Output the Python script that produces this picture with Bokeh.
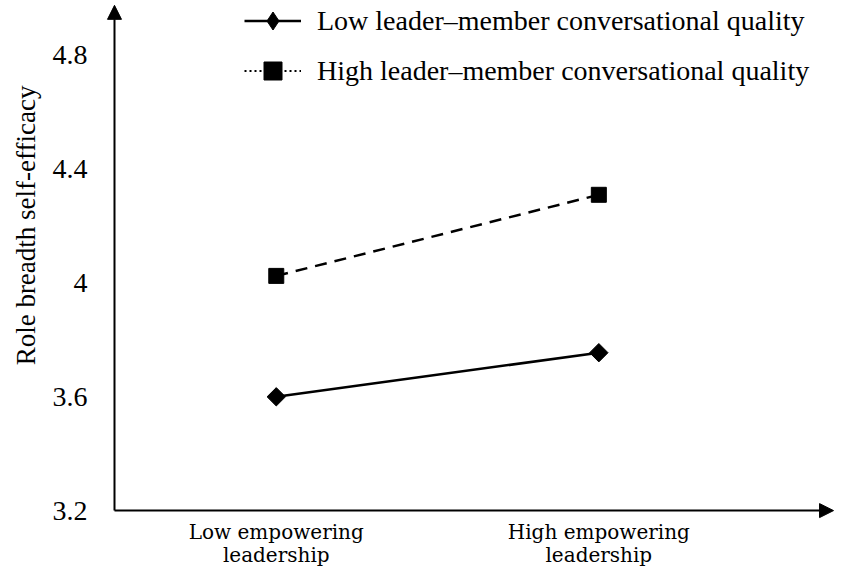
import math
from bokeh.plotting import figure
from bokeh.core.properties import value
from bokeh.models import (Range1d, Legend, LegendItem, Arrow, NormalHead, Title,
                          LabelSet, FixedTicker, ColumnDataSource)
from bokeh.embed import file_html
from bokeh.resources import INLINE

# ---- data ----
categories = ["Low empowering\nleadership", "High empowering\nleadership"]
x_pos = [0, 1]
low_lmx = [3.60, 3.755]
high_lmx = [4.025, 4.31]
y_ticks = [3.2, 3.6, 4.0, 4.4, 4.8]
y_tick_labels = ["3.2", "3.6", "4", "4.4", "4.8"]
series_names = ["Low leader\u2013member conversational quality",
                "High leader\u2013member conversational quality"]
y_title = "Role breadth self-efficacy"

# ---- view / axis geometry (styling) ----
Y_AXIS_MIN, Y_AXIS_TOP = 3.2, 4.976        # y axis line: origin and arrow tip
X_AXIS_LEFT, X_AXIS_TIP = -0.5015, 1.7276  # x axis line: origin and arrow tip
VIEW_X = (-0.5325, 1.7337)
VIEW_Y = (3.0, 4.993)
FONT = "Liberation Serif"

p = figure(width=835, height=567, output_backend="svg", toolbar_location=None,
           x_range=Range1d(*VIEW_X), y_range=Range1d(*VIEW_Y),
           min_border_left=103, min_border_right=0, min_border_top=0,
           min_border_bottom=0)
p.outline_line_color = None
p.grid.visible = False
p.background_fill_color = "white"

# axes
p.xaxis.visible = False
p.yaxis.ticker = FixedTicker(ticks=y_ticks)
p.yaxis.major_label_overrides = {t: l for t, l in zip(y_ticks, y_tick_labels)}
p.yaxis.axis_line_color = None
p.yaxis.major_tick_line_color = None
p.yaxis.minor_tick_line_color = None
p.yaxis.major_label_text_font = FONT
p.yaxis.major_label_text_color = "black"
p.yaxis.major_label_text_font_size = "28px"
p.yaxis.major_label_standoff = 11

p.add_layout(Title(text=y_title, align="right", offset=85, text_font=FONT,
                   text_font_size="27px", text_font_style="normal",
                   text_color="black", standoff=17), "left")

# axis lines with arrow heads
head = dict(size=14, fill_color="black", line_color="black")
p.add_layout(Arrow(end=NormalHead(**head), x_start=X_AXIS_LEFT, y_start=Y_AXIS_MIN,
                   x_end=X_AXIS_LEFT, y_end=Y_AXIS_TOP, line_width=2, line_color="black"))
p.add_layout(Arrow(end=NormalHead(**head), x_start=X_AXIS_LEFT, y_start=Y_AXIS_MIN,
                   x_end=X_AXIS_TIP, y_end=Y_AXIS_MIN, line_width=2, line_color="black"))

# category labels under the x axis (two lines each)
cat_lines = [c.split("\n") for c in categories]
for row, off in ((0, -28), (1, -51)):
    src = ColumnDataSource(dict(x=x_pos, y=[Y_AXIS_MIN] * len(x_pos),
                                text=[parts[row] for parts in cat_lines]))
    p.add_layout(LabelSet(x="x", y="y", text="text", source=src,
                          y_offset=off, text_align="center",
                          text_baseline="alphabetic",
                          text_font=value("DejaVu Serif"),
                          text_font_size=value("20px"), text_color="black"))

# series
nan = [float("nan")] * len(x_pos)
l1 = p.line(x_pos, low_lmx, line_color="black", line_width=2.5)
p.scatter(x_pos, low_lmx, marker="square", angle=math.pi / 4, size=13,
          fill_color="black", line_color="black")
m1_leg = p.scatter(x_pos, nan, marker="diamond", size=20, fill_color="black",
                   line_color="black")
l2 = p.line(x_pos, high_lmx, line_color="black", line_width=2.5, line_dash="12 8")
m2 = p.scatter(x_pos, high_lmx, marker="square", size=15, fill_color="black",
               line_color="black")
l2_leg = p.line(x_pos, nan, line_color="black", line_width=2, line_dash="2 3")

legend = Legend(items=[LegendItem(label=series_names[0], renderers=[l1, m1_leg]),
                       LegendItem(label=series_names[1], renderers=[l2_leg, m2])],
                location=(140, 474), orientation="vertical",
                border_line_color=None, background_fill_alpha=0,
                label_text_font=FONT, label_text_font_size="28px",
                label_text_color="black",
                glyph_width=57, glyph_height=45, label_height=45,
                label_standoff=16, spacing=5, padding=0, margin=0)
p.add_layout(legend)

open("out.html", "w").write(file_html(p, INLINE))
